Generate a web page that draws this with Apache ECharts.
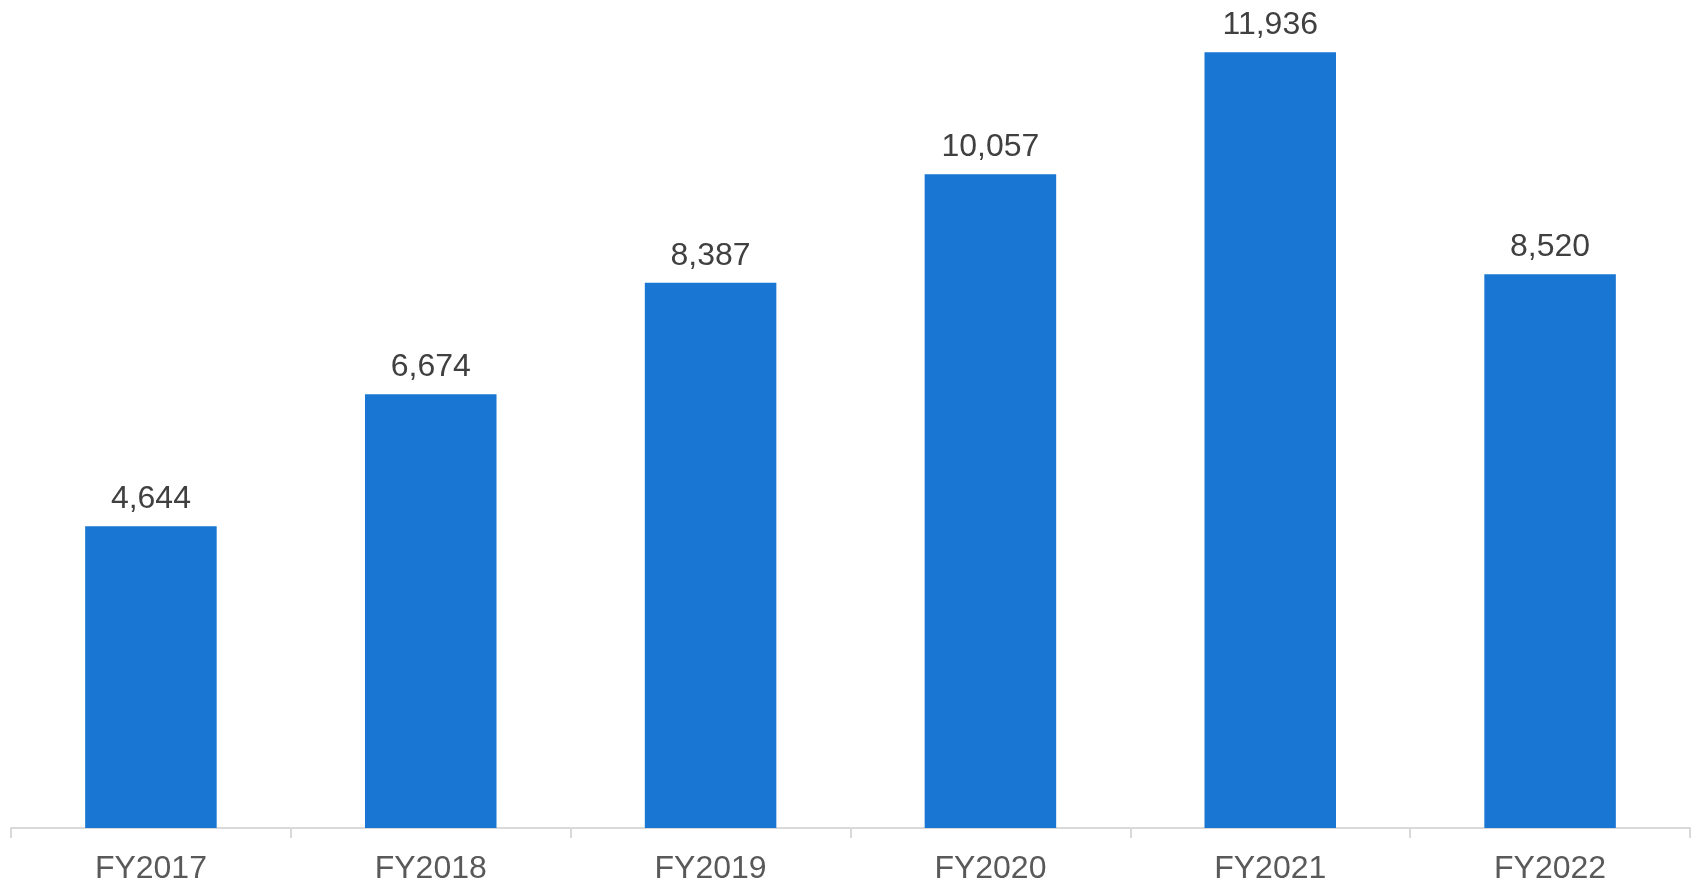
<!DOCTYPE html>
<html>
<head>
<meta charset="utf-8">
<style>
  html, body { margin: 0; padding: 0; background: #fff; }
  #chart { width: 1696px; height: 885px; }
</style>
<script src="https://cdn.jsdelivr.net/npm/echarts@6/dist/echarts.min.js"></script>
</head>
<body>
<div id="chart"></div>
<script>
// categories and values
var years = ['FY2017', 'FY2018', 'FY2019', 'FY2020', 'FY2021', 'FY2022'];
var values = [4644, 6674, 8387, 10057, 11936, 8520];

var myChart = echarts.init(document.getElementById('chart'));
var font = '"Liberation Sans", Arial, sans-serif';

var option = {
    animation: false,
    grid: { left: 11, right: 6, top: 48, bottom: 53, containLabel: false },
    xAxis: {
        type: 'category',
        data: years,
        axisLine: { lineStyle: { color: '#d9d9d9', width: 2 } },
        axisTick: { show: true, length: 10, lineStyle: { color: '#d9d9d9', width: 2 } },
        axisLabel: { color: '#595959', fontSize: 32, fontFamily: font, margin: 25 }
    },
    yAxis: {
        type: 'value',
        min: 0,
        max: 12000,
        show: false,
        splitLine: { show: false }
    },
    series: [{
        type: 'bar',
        data: values,
        barWidth: '47%',
        itemStyle: { color: '#1976d2' },
        label: {
            show: true,
            position: 'top',
            distance: 11,
            color: '#404040',
            fontSize: 32,
            fontFamily: font,
            formatter: function (p) { return p.value.toLocaleString('en-US'); }
        }
    }]
};
myChart.setOption(option);
</script>
</body>
</html>
